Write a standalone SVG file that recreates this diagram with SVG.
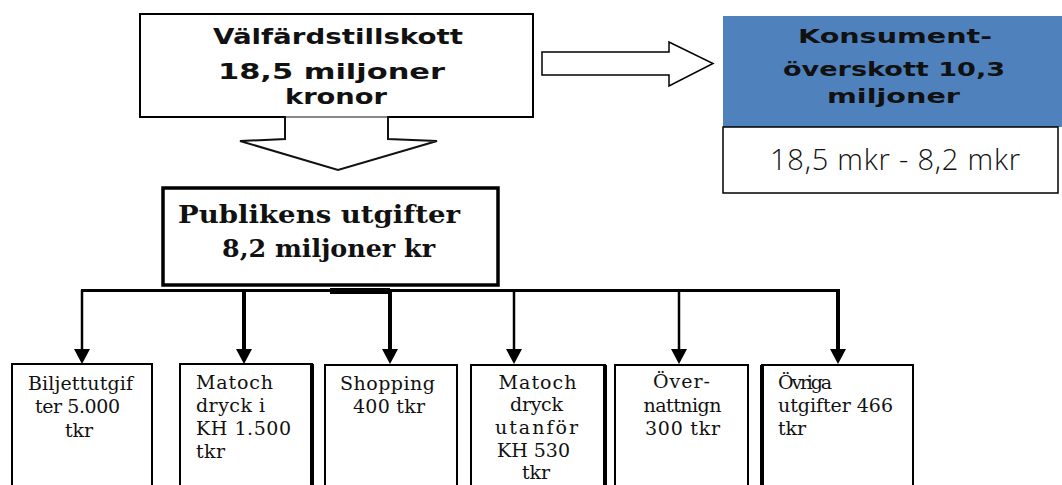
<svg xmlns="http://www.w3.org/2000/svg" width="1062" height="485" viewBox="0 0 1062 485">
<style>
.box{fill:#fff;stroke:#000;stroke-width:2}
.hdr{font-family:"DejaVu Sans",Verdana,sans-serif;font-weight:bold;font-size:21px;text-anchor:middle;fill:#111}
.blu{font-family:"DejaVu Sans",Verdana,sans-serif;font-weight:bold;font-size:19px;text-anchor:middle;fill:#111}
.pub{font-family:"DejaVu Serif","Liberation Serif",serif;font-weight:bold;font-size:24px;text-anchor:middle;fill:#111}
.sm{font-family:"DejaVu Serif","Liberation Serif",serif;font-size:19px;fill:#111}
.c{text-anchor:middle}
.diff{font-family:"Open Sans","Liberation Sans",sans-serif;font-weight:300;font-size:29px;text-anchor:middle;fill:#111}
.bus{stroke:#000;fill:none}
</style>
<defs>
<marker id="ah" markerUnits="userSpaceOnUse" viewBox="0 0 15 16" markerWidth="15" markerHeight="16" refX="7" refY="8" orient="auto">
<path d="M0,0 L15,8 L0,16 Z" fill="#000"/>
</marker>
</defs>
<rect width="1062" height="485" fill="#fff"/>

<g id="valfard">
<rect class="box" x="140" y="14" width="393" height="103"/>
<text class="hdr" x="338" y="44" textLength="250" lengthAdjust="spacingAndGlyphs">Välfärdstillskott</text>
<text class="hdr" x="331.5" y="79" textLength="227" lengthAdjust="spacingAndGlyphs">18,5 miljoner</text>
<text class="hdr" x="336" y="104" textLength="102" lengthAdjust="spacingAndGlyphs">kronor</text>
</g>

<g id="konsument">
<rect x="723" y="16" width="339" height="111" fill="#4F81BD"/>
<text class="blu" x="895" y="43" textLength="194" lengthAdjust="spacingAndGlyphs">Konsument-</text>
<text class="blu" x="894" y="76" textLength="222" lengthAdjust="spacingAndGlyphs">överskott 10,3</text>
<text class="blu" x="893.5" y="103" textLength="133" lengthAdjust="spacingAndGlyphs">miljoner</text>
<rect x="723" y="127" width="335" height="66" fill="#fff" stroke="#000" stroke-width="1.5"/>
<text class="diff" x="895" y="170" textLength="250">18,5 mkr - 8,2 mkr</text>
</g>

<g id="publikens">
<rect x="163" y="188" width="335" height="97" fill="#fff" stroke="#000" stroke-width="3.5"/>
<text class="pub" x="319" y="223" textLength="282" lengthAdjust="spacingAndGlyphs">Publikens utgifter</text>
<text class="pub" x="328.5" y="257" textLength="213" lengthAdjust="spacingAndGlyphs">8,2 miljoner kr</text>
</g>

<g id="connectors">
<polygon points="285,117 285,139 240,141 338,170 437,141 388,139 388,117" fill="#fff" stroke="#111" stroke-width="2"/>
<line x1="286" y1="117" x2="387" y2="117" stroke="#fff" stroke-width="1"/>
<polygon points="542,52 669,52 669,42 713,63.5 669,86 669,75 542,75" fill="#fff" stroke="#000" stroke-width="1.5"/>
<line class="bus" x1="81" y1="290.5" x2="840" y2="290.5" stroke-width="3"/>
<rect x="330" y="288" width="60" height="6" fill="#000"/>
<path class="bus" d="M82,290 V356" stroke-width="2.5" marker-end="url(#ah)"/>
<path class="bus" d="M244,290 V356" stroke-width="4" marker-end="url(#ah)"/>
<path class="bus" d="M390,290 V356" stroke-width="4" marker-end="url(#ah)"/>
<path class="bus" d="M514,290 V356" stroke-width="2.5" marker-end="url(#ah)"/>
<path class="bus" d="M679,290 V356" stroke-width="2.5" marker-end="url(#ah)"/>
<path class="bus" d="M838,290 V356" stroke-width="4" marker-end="url(#ah)"/>
</g>

<g id="b1">
<rect class="box" x="12" y="364" width="140" height="130" stroke-width="1.5"/>
<text class="sm c" x="80.5" y="390" textLength="105">Biljettutgif</text>
<text class="sm c" x="77.5" y="413" textLength="85">ter 5.000</text>
<text class="sm c" x="79" y="437" textLength="28">tkr</text>
</g>

<g id="b2">
<rect class="box" x="180" y="364" width="132" height="130" stroke-width="1.5"/>
<line x1="312" y1="364" x2="312" y2="490" stroke="#000" stroke-width="4"/>
<text class="sm" x="196" y="389" textLength="77">Matoch</text>
<text class="sm" x="196" y="412" textLength="69">dryck i</text>
<text class="sm" x="196" y="435" textLength="95">KH 1.500</text>
<text class="sm" x="196" y="458" textLength="29">tkr</text>
</g>

<g id="b3">
<rect class="box" x="325" y="365" width="132" height="130" stroke-width="1.5"/>
<text class="sm c" x="387.5" y="390" textLength="95">Shopping</text>
<text class="sm c" x="389" y="413" textLength="72">400 tkr</text>
</g>

<g id="b4">
<rect class="box" x="471" y="365" width="134" height="130" stroke-width="1.5"/>
<line x1="605" y1="365" x2="605" y2="490" stroke="#000" stroke-width="4"/>
<text class="sm c" x="537.5" y="389" textLength="78">Matoch</text>
<text class="sm c" x="536.5" y="411" textLength="53">dryck</text>
<text class="sm c" x="536.5" y="434" textLength="83">utanför</text>
<text class="sm c" x="533.5" y="457" textLength="73">KH 530</text>
<text class="sm c" x="536" y="479" textLength="28">tkr</text>
</g>

<g id="b5">
<rect class="box" x="615" y="365" width="133" height="130" stroke-width="1.5"/>
<text class="sm c" x="681.5" y="388" textLength="57">Över-</text>
<text class="sm c" x="682.5" y="412" textLength="78">nattnign</text>
<text class="sm c" x="682.5" y="435" textLength="75">300 tkr</text>
</g>

<g id="b6">
<rect class="box" x="762" y="365" width="151" height="130" stroke-width="1.5"/>
<line x1="762" y1="365" x2="762" y2="490" stroke="#000" stroke-width="4"/>
<text class="sm" x="778" y="389" textLength="54">Övriga</text>
<text class="sm" x="778" y="412" textLength="115">utgifter 466</text>
<text class="sm" x="778" y="435" textLength="28">tkr</text>
</g>
</svg>
